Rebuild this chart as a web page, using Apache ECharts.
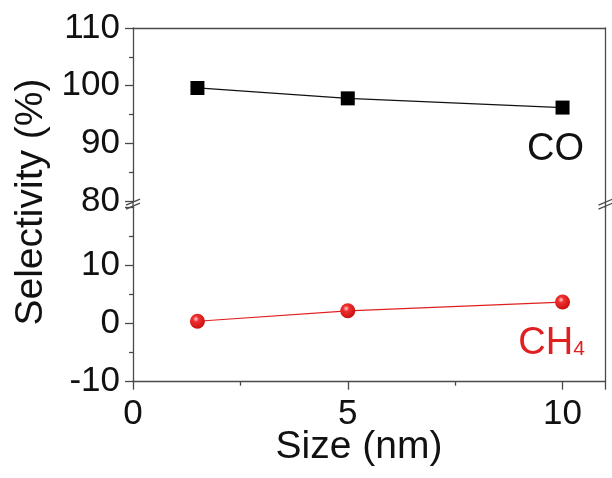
<!DOCTYPE html>
<html><head><meta charset="utf-8">
<script src="https://cdn.jsdelivr.net/npm/echarts@6/dist/echarts.min.js"></script>
<style>html,body{margin:0;padding:0;background:#fff}#c{width:612px;height:478px}</style>
</head><body><div id="c"></div>
<script>
const sizes = [1.5, 5, 10];
const coSel = [99.6, 97.8, 96.2];
const ch4Sel = [0.4, 2.2, 3.7];
const upperRange = [80, 110];
const lowerRange = [-10, 20];
const xRange = [0, 11];
const xTickMax = 10;
const xName = 'Size (nm)';
const yName = 'Selectivity (%)';
const coLabel = 'CO';

const FONT = 'Liberation Sans';
const AX = '#4a4a4a';
const RED = '#e02020';
const chart = echarts.init(document.getElementById('c'), null, {renderer: 'canvas'});

const lineOnly = {show: true, onZero: false, lineStyle: {color: AX, width: 1.3}};
const tickOut = {show: true, inside: false, length: 8, lineStyle: {color: AX, width: 1.3}};
const minorOut = {show: true, splitNumber: 2, length: 4, lineStyle: {color: AX, width: 1.3}};
const lbl = {color: '#111', fontFamily: FONT, fontSize: 35};

const option = {
  backgroundColor: '#fff',
  animation: false,
  grid: [
    {left: 133, right: 6.5, top: 28, height: 173, containLabel: false, outerBoundsMode: 'none'},
    {left: 133, right: 6.5, top: 207.3, bottom: 96.3, containLabel: false, outerBoundsMode: 'none'}
  ],
  xAxis: [
    {gridIndex: 0, type: 'value', min: xRange[0], max: xRange[1], position: 'top',
     axisLine: lineOnly, axisTick: {show: false}, axisLabel: {show: false}, splitLine: {show: false}},
    {gridIndex: 1, type: 'value', min: xRange[0], max: xRange[1], interval: 5,
     axisLine: lineOnly, axisTick: tickOut, minorTick: minorOut,
     axisLabel: Object.assign({margin: 15, showMaxLabel: false,
       formatter: v => v > xTickMax ? '' : String(v)}, lbl), splitLine: {show: false}}
  ],
  yAxis: [
    {gridIndex: 0, type: 'value', min: upperRange[0], max: upperRange[1], interval: 10,
     axisLine: lineOnly, axisTick: tickOut, minorTick: minorOut,
     axisLabel: Object.assign({margin: 13}, lbl), splitLine: {show: false}},
    {gridIndex: 1, type: 'value', min: lowerRange[0], max: lowerRange[1], interval: 10,
     axisLine: lineOnly, axisTick: tickOut, minorTick: minorOut,
     axisLabel: Object.assign({margin: 13, formatter: v => v === lowerRange[1] ? '' : String(v)}, lbl),
     splitLine: {show: false}},
    {gridIndex: 0, type: 'value', min: upperRange[0], max: upperRange[1], position: 'right',
     axisLine: lineOnly, axisTick: {show: false}, axisLabel: {show: false}, splitLine: {show: false}},
    {gridIndex: 1, type: 'value', min: lowerRange[0], max: lowerRange[1], position: 'right',
     axisLine: lineOnly, axisTick: {show: false}, axisLabel: {show: false}, splitLine: {show: false}}
  ],
  series: [
    {type: 'line', xAxisIndex: 0, yAxisIndex: 0, data: sizes.map((x, i) => [x, coSel[i]]),
     symbol: 'rect', symbolSize: 14, itemStyle: {color: '#000'},
     lineStyle: {color: '#111', width: 1.2}},
    {type: 'line', xAxisIndex: 1, yAxisIndex: 1, data: sizes.map((x, i) => [x, ch4Sel[i]]),
     symbol: 'circle', symbolSize: 15,
     itemStyle: {color: {type: 'radial', x: 0.4, y: 0.35, r: 0.65,
       colorStops: [{offset: 0, color: '#ffd0d0'}, {offset: 0.3, color: '#f03030'}, {offset: 1, color: '#c81010'}]}},
     lineStyle: {color: RED, width: 1.2}}
  ]
};
chart.setOption(option);

function drawExtras() {
  const pTop = chart.convertToPixel({gridIndex: 0}, [xRange[0], upperRange[0]]);
  const pBot = chart.convertToPixel({gridIndex: 1}, [xRange[0], lowerRange[1]]);
  const pTopR = chart.convertToPixel({gridIndex: 0}, [xRange[1], upperRange[0]]);
  const coEnd = chart.convertToPixel({gridIndex: 0}, [sizes[2], coSel[2]]);
  const chEnd = chart.convertToPixel({gridIndex: 1}, [sizes[2], ch4Sel[2]]);
  const xl = pTop[0], xr = pTopR[0];
  const y1 = pTop[1], y2 = pBot[1];
  const mid = (y1 + y2) / 2;
  const brk = (x) => [
    {type: 'line', shape: {x1: x, y1: y1, x2: x, y2: y2}, style: {stroke: AX, lineWidth: 1.3}},
    {type: 'line', shape: {x1: x - 7, y1: mid + 1, x2: x + 7, y2: mid - 5}, style: {stroke: AX, lineWidth: 1.2}},
    {type: 'line', shape: {x1: x - 7, y1: mid + 5, x2: x + 7, y2: mid - 1}, style: {stroke: AX, lineWidth: 1.2}}
  ];
  chart.setOption({
    graphic: [].concat(brk(xl), brk(xr), [
      {type: 'text', x: 31, y: 202, rotation: Math.PI / 2,
       style: {text: yName, fill: '#111', font: '39px "' + FONT + '"', align: 'center', verticalAlign: 'middle'}},
      {type: 'text', x: 359, y: 447,
       style: {text: xName, fill: '#111', font: '39px "' + FONT + '"', align: 'center', verticalAlign: 'middle'}},
      {type: 'text', x: coEnd[0] - 7, y: coEnd[1] + 42,
       style: {text: coLabel, fill: '#111', font: '38px "' + FONT + '"', align: 'center', verticalAlign: 'middle'}},
      {type: 'text', x: chEnd[0] - 11, y: chEnd[1] + 41,
       style: {text: '{a|CH}{b|4}', align: 'center', verticalAlign: 'middle',
         rich: {a: {fill: RED, fontSize: 38, fontFamily: FONT},
                b: {fill: RED, fontSize: 21, fontFamily: FONT, padding: [12, 0, 0, 0]}}}}
    ])
  });
}
drawExtras();
</script></body></html>
